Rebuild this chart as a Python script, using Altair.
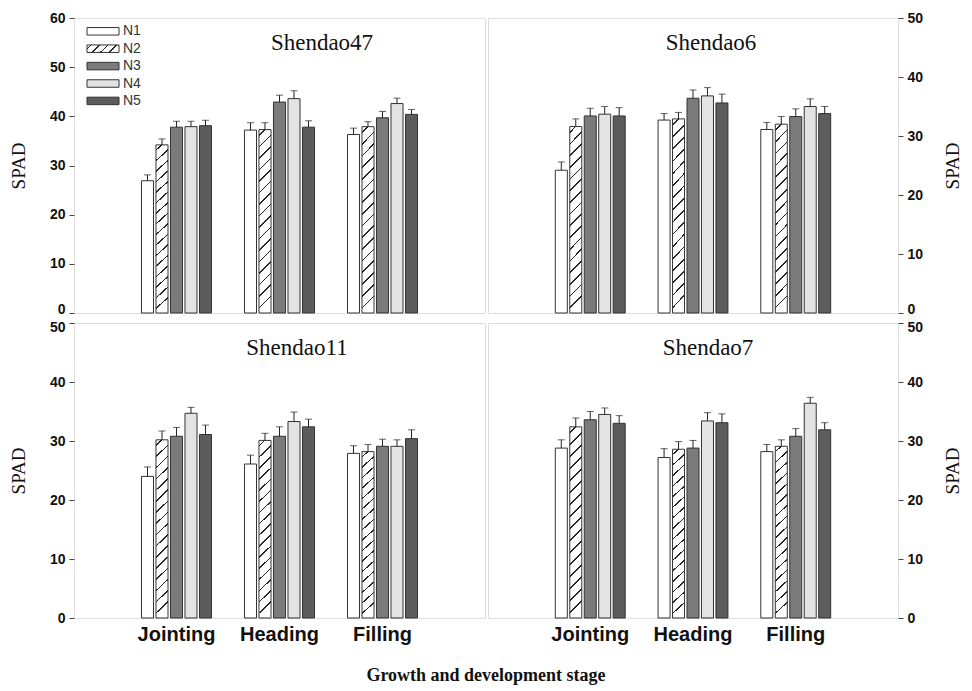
import altair as alt
import pandas as pd

stages = ["Jointing", "Heading", "Filling"]
levels = ["N1", "N2", "N3", "N4", "N5"]
fills = ["#ffffff", "#ffffff", "#7b7b7b", "#e3e3e3", "#5c5c5c"]

# values are stage-major: Jointing N1..N5, Heading N1..N5, Filling N1..N5
shendao47_spad = [26.9, 34.2, 37.8, 37.9, 38.1, 37.2, 37.3, 42.9, 43.6, 37.8, 36.3, 37.9, 39.7, 42.6, 40.4]
shendao47_err = [1.2, 1.2, 1.2, 1.1, 1.1, 1.5, 1.4, 1.4, 1.6, 1.3, 1.3, 1.0, 1.3, 1.1, 1.0]
shendao6_spad = [24.2, 31.6, 33.4, 33.7, 33.4, 32.7, 32.9, 36.4, 36.8, 35.6, 31.1, 32.0, 33.3, 35.0, 33.8]
shendao6_err = [1.4, 1.3, 1.3, 1.3, 1.4, 1.1, 1.1, 1.4, 1.4, 1.5, 1.2, 1.3, 1.3, 1.3, 1.2]
shendao11_spad = [24.0, 30.2, 30.8, 34.7, 31.1, 26.1, 30.1, 30.8, 33.3, 32.4, 27.9, 28.2, 29.1, 29.1, 30.4]
shendao11_err = [1.6, 1.5, 1.5, 1.0, 1.6, 1.5, 1.2, 1.6, 1.6, 1.3, 1.3, 1.2, 1.2, 1.1, 1.5]
shendao7_spad = [28.8, 32.4, 33.6, 34.5, 33.0, 27.2, 28.6, 28.8, 33.4, 33.1, 28.2, 29.1, 30.8, 36.4, 31.9]
shendao7_err = [1.4, 1.5, 1.4, 1.1, 1.3, 1.5, 1.3, 1.3, 1.4, 1.5, 1.2, 1.1, 1.3, 1.0, 1.2]

SANS = "Liberation Sans"
SERIF = "Liberation Serif"
INK = "#111111"


def hatch(n, thick, x2, y2):
    """Diagonal hatch drawn as a striped linear gradient (style only)."""
    stops = [{"offset": 0, "color": "#ffffff"}]
    for k in range(n):
        c = (k + 0.5) / n
        a, b = c - thick / 2, c + thick / 2
        stops += [
            {"offset": a, "color": "#ffffff"},
            {"offset": a, "color": "#222222"},
            {"offset": b, "color": "#222222"},
            {"offset": b, "color": "#ffffff"},
        ]
    stops.append({"offset": 1, "color": "#ffffff"})
    return {"gradient": "linear", "x1": 0, "y1": 0, "x2": x2, "y2": y2, "stops": stops}


bar_hatch = hatch(16, 0.009, 0.065, 1.0)
legend_hatch = hatch(4, 0.045, 1.0, 0.25)

color_scale = alt.Scale(domain=levels, range=fills)


def panel(name, vals, errs, ymax, side, bottom, with_legend, title_x, width):
    df = pd.DataFrame({
        "stage": [s for s in stages for _ in levels],
        "N": levels * 3,
        "spad": vals,
        "err": errs,
    })
    if bottom:
        xaxis = alt.Axis(title=None, labelAngle=0, ticks=False, domain=False,
                         labelFont=SANS, labelFontWeight="bold", labelFontSize=20,
                         labelColor=INK, labelPadding=6)
        # nudge the top label down a little, away from the panel above
        loff = {"condition": {"test": f"datum.value === {ymax}", "value": 4}, "value": 0}
    else:
        xaxis = None
        # nudge the bottom label up a little, away from the panel below
        loff = {"condition": {"test": "datum.value === 0", "value": -4}, "value": 0}
    x = alt.X("stage:N", sort=stages, axis=xaxis,
              scale=alt.Scale(paddingInner=0.32, paddingOuter=0.655))
    xo = alt.XOffset("N:N", sort=levels,
                     scale=alt.Scale(paddingInner=0.17, paddingOuter=0))
    yaxis = alt.Axis(values=list(range(0, ymax + 1, 10)), orient=side, grid=False,
                     domain=False, tickSize=5, tickColor="#444444",
                     labelFont=SANS, labelFontWeight="bold", labelFontSize=14,
                     labelColor=INK, labelPadding=4, labelOffset=loff,
                     title="SPAD", titleFont=SERIF, titleFontSize=19,
                     titleFontWeight="normal", titleColor=INK,
                     titlePadding=21 if side == "left" else 40,
                     titleAngle=270)
    yscale = alt.Scale(domain=[0, ymax], nice=False)
    base = alt.Chart(df).transform_calculate(upper="datum.spad + datum.err")
    bars = base.mark_bar(stroke="#333333", strokeWidth=1).encode(
        x=x, xOffset=xo,
        y=alt.Y("spad:Q", scale=yscale, axis=yaxis),
        color=alt.condition("datum.N === 'N2'", alt.value(bar_hatch),
                            alt.Color("N:N", scale=color_scale, legend=None)),
    )
    rules = base.mark_rule(color="#222222", strokeWidth=1).encode(
        x=x, xOffset=xo,
        y=alt.Y("spad:Q", scale=yscale, axis=yaxis), y2="upper:Q",
    )
    caps = base.mark_tick(color="#222222", thickness=1, size=7).encode(
        x=x, xOffset=xo,
        y=alt.Y("upper:Q", scale=yscale, axis=yaxis),
    )
    label = alt.Chart(pd.DataFrame({"name": [name]})).mark_text(
        font=SERIF, fontSize=23, color=INK, align="center", baseline="middle"
    ).encode(x=alt.value(title_x), y=alt.value(25), text="name:N")
    layers = alt.layer(bars, rules, caps, label)
    if with_legend:
        ldf = pd.DataFrame({"N": levels})
        ly = alt.Y("N:N", sort=levels, axis=None,
                   scale=alt.Scale(range=[4.6, 91.6], paddingInner=0.57, paddingOuter=0.285))
        lrect = alt.Chart(ldf).mark_rect(stroke="#333333", strokeWidth=1).encode(
            x=alt.value(13), x2=alt.value(45), y=ly,
            color=alt.condition("datum.N === 'N2'", alt.value(legend_hatch),
                                alt.Color("N:N", scale=color_scale, legend=None)),
        )
        ltext = alt.Chart(ldf).mark_text(align="left", baseline="middle", font=SANS,
                                         fontSize=14, color="#333333").encode(
            x=alt.value(49), y=ly, text="N:N",
        )
        layers = alt.layer(layers, alt.layer(lrect, ltext)).resolve_scale(y="independent")
    return layers.properties(width=width, height=295)


tl = panel("Shendao47", shendao47_spad, shendao47_err, 60, "left", False, True, 248, 411)
tr = panel("Shendao6", shendao6_spad, shendao6_err, 50, "right", False, False, 223, 410)
bl = panel("Shendao11", shendao11_spad, shendao11_err, 50, "left", True, False, 223, 411)
br = panel("Shendao7", shendao7_spad, shendao7_err, 50, "right", True, False, 220, 410)

chart = alt.concat(tl, tr, bl, br, columns=2).properties(
    spacing={"row": 10, "column": 3},
    bounds="flush",
    padding={"left": 0, "top": 2, "right": 0, "bottom": 0},
    title=alt.TitleParams("Growth and development stage", orient="bottom", anchor="middle",
                          font=SERIF, fontSize=18, fontWeight="bold", color=INK, offset=22),
).resolve_scale(
    x="independent", y="independent", color="independent", xOffset="independent"
).configure_view(stroke="#4a4a4a", strokeWidth=1.2).configure(background="white")

chart.save("out.html", embed_options={"renderer": "svg", "actions": False})
